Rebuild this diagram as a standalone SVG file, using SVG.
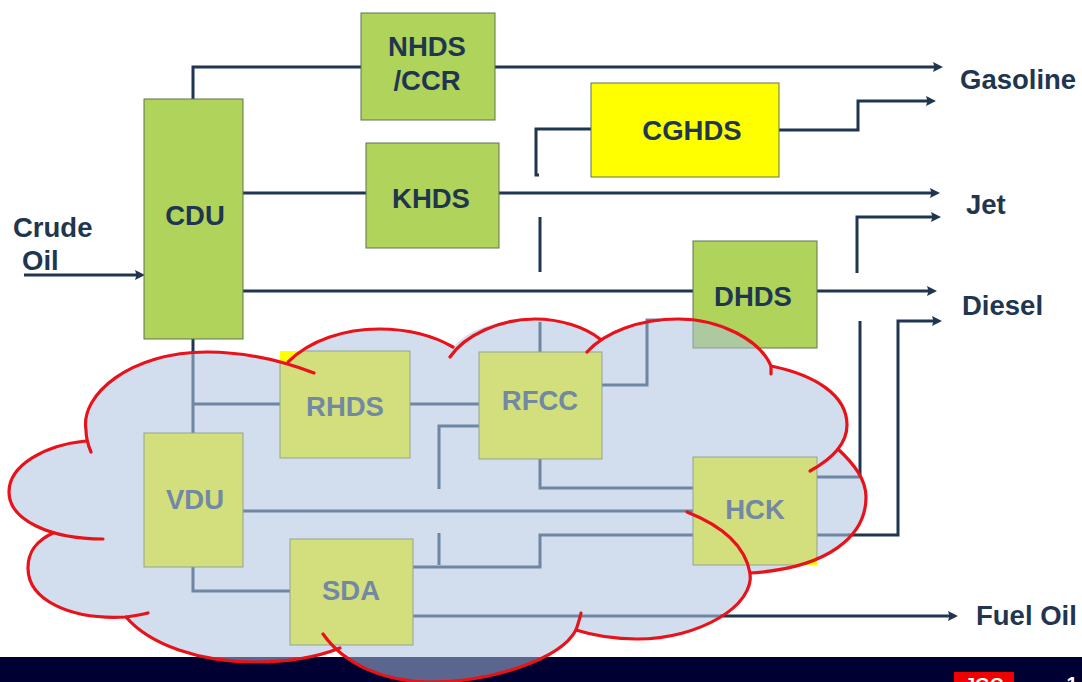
<svg xmlns="http://www.w3.org/2000/svg" width="1082" height="682" viewBox="0 0 1082 682">
<style>
.box{stroke:#5f7550;stroke-width:1}
.g{fill:#afd35b}
.y{fill:#ffff00}
.in{fill:#d3de7d;stroke:#8fa596;stroke-width:1}
.t{font-family:"Liberation Sans",Arial,sans-serif;font-weight:700;font-size:27.5px;fill:#1f3550}
.tc{text-anchor:middle}
.tg{fill:#7288a3}
.d{fill:none;stroke:#1f3550;stroke-width:3}
.a{fill:none;stroke:#6f86a3;stroke-width:3}
.r{fill:none;stroke:#e8121a;stroke-width:3.2;stroke-linecap:round}
</style>
<defs>
<marker id="ah" markerUnits="userSpaceOnUse" markerWidth="12" markerHeight="12" refX="4" refY="6" orient="auto"><path d="M0,1 L10,6 L0,11 L1.5,6 Z" fill="#1f3550"/></marker>
<path id="cl" d="M86,441 C80,395 130,352 207,352 C240,352 265,358 288,364 C315,340 345,329 379,329 C405,329 432,335 453,347 C470,328 500,319 535,319 C560,319 585,327 600,339 C620,325 650,319 678,319 C720,319 760,340 771,366 C815,375 847,395 847,425 C847,435 843,443 838,449 C855,465 866,480 866,497 C866,535 830,568 750,573 C755,600 700,639 637,639 C615,639 595,636 576,630 C560,660 490,682 431,682 C390,682 355,670 340,648 C310,660 285,662 255,662 C200,662 150,645 126,617 C70,620 28,600 28,568 C28,550 38,540 53,533 C25,525 9,510 9,492 C9,465 45,445 86,441 Z"/>
<clipPath id="cc"><use href="#cl"/></clipPath>
</defs>
<rect width="1082" height="682" fill="#fff"/>
<rect id="footer" x="0" y="657" width="1082" height="25" fill="#000033"/>
<g id="logo">
<rect x="954" y="672" width="60" height="10" fill="#f00000"/>
<text x="984" y="691" class="t tc" style="fill:#fff;font-size:19px">JGC</text>
<text x="1072" y="691" class="t tc" style="fill:#fff;font-size:20px">1</text>
</g>
<g id="connectors-top">
<path class="d" d="M193,99 V67 H361"/>
<path class="d" d="M495,67 H937" marker-end="url(#ah)"/>
<path class="d" d="M243,193 H366"/>
<path class="d" d="M499,193 H934" marker-end="url(#ah)"/>
<path class="d" d="M243,291 H693"/>
<path class="d" d="M817,291 H931" marker-end="url(#ah)"/>
<path class="d" d="M24,275 H139" marker-end="url(#ah)"/>
<path class="d" d="M539,175 H536 V129 H591"/>
<path class="d" d="M779,130 H858 V101 H930" marker-end="url(#ah)"/>
<path class="d" d="M540,217 V272"/>
<path class="d" d="M857,273 V217 H935" marker-end="url(#ah)"/>
<path class="d" d="M860,321 V477"/>
<path class="d" d="M848,535 H898 V321 H936" marker-end="url(#ah)"/>
<path class="d" d="M720,616 H952" marker-end="url(#ah)"/>
<path class="d" d="M193,339 V354"/>
</g>
<g id="node-nhds"><rect class="box g" x="361" y="13" width="134" height="107"/><text class="t tc" x="427" y="56">NHDS</text><text class="t tc" x="427" y="90">/CCR</text></g>
<g id="node-cdu"><rect class="box g" x="144" y="99" width="99" height="240"/><text class="t tc" x="195" y="225">CDU</text></g>
<g id="node-cghds"><rect class="box y" x="591" y="83" width="188" height="94"/><text class="t tc" x="692" y="140">CGHDS</text></g>
<g id="node-khds"><rect class="box g" x="366" y="143" width="133" height="105"/><text class="t tc" x="431" y="208">KHDS</text></g>
<g id="node-dhds"><rect class="box g" x="693" y="241" width="124" height="107"/><text class="t tc" x="753" y="306">DHDS</text></g>
<rect class="y" x="280" y="351" width="130" height="107"/>
<rect class="y" x="693" y="457" width="124" height="108"/>
<g id="cloud"><use href="#cl" fill="#aac1dd" fill-opacity="0.53"/></g>
<g id="connectors-cloud">
<path class="a" d="M193,354 V433"/>
<path class="a" d="M193,404 H280"/>
<path class="a" d="M410,404 H479"/>
<path class="a" d="M540,322 V352"/>
<path class="a" d="M602,385 H647 V320 H660"/>
<path class="a" d="M479,426 H439 V489"/>
<path class="a" d="M439,533 V565"/>
<path class="a" d="M413,567 H540 V535 H693"/>
<path class="a" d="M540,459 V488 H693"/>
<path class="a" d="M243,511 H693"/>
<path class="a" d="M193,567 V591 H290"/>
<path class="a" d="M413,616 H722"/>
<path class="a" d="M817,477 H860"/>
<path class="a" d="M817,535 H850"/>
</g>
<g clip-path="url(#cc)">
<g id="node-rhds"><rect class="in" x="280" y="351" width="130" height="107"/><text class="t tc tg" x="345" y="416">RHDS</text></g>
<g id="node-hck"><rect class="in" x="693" y="457" width="124" height="108"/><text class="t tc tg" x="755" y="519">HCK</text></g>
</g>
<g id="node-rfcc"><rect class="in" x="479" y="352" width="123" height="107"/><text class="t tc tg" x="540" y="410">RFCC</text></g>
<g id="node-vdu"><rect class="in" x="144" y="433" width="99" height="134"/><text class="t tc tg" x="195" y="509">VDU</text></g>
<g id="node-sda"><rect class="in" x="290" y="539" width="123" height="106"/><text class="t tc tg" x="351" y="600">SDA</text></g>
<g id="cloud-outline">
<path class="r" d="M314,373 C280,360 245,352 207,352 C130,352 80,395 86,430 C86,438 88,445 91,452"/>
<path class="r" d="M86,441 C45,445 9,465 9,492 C9,520 50,539 103,539"/>
<path class="r" d="M53,533 C38,540 28,550 28,568 C28,600 70,620 126,617 C133,616 140,615 148,613"/>
<path class="r" d="M126,617 C150,645 200,662 255,662 C285,662 315,658 340,648"/>
<path class="r" d="M323,634 C345,665 385,682 431,682 C490,682 560,660 576,630 C578,624 580,618 581,613"/>
<path class="r" d="M576,630 C595,636 615,639 637,639 C700,639 755,605 750,573 C745,545 720,525 687,512"/>
<path class="r" d="M750,573 C830,568 866,535 866,497 C866,480 855,465 838,449"/>
<path class="r" d="M810,471 C830,460 847,445 847,425 C847,395 815,375 771,366"/>
<path class="r" d="M771,374 C771,371 771,369 771,366 C760,340 720,319 678,319 C640,319 605,332 587,352"/>
<path class="r" d="M600,339 C585,327 560,319 535,319 C500,319 465,335 450,357"/>
<path class="r" d="M453,347 C432,335 405,329 379,329 C345,329 310,340 288,362"/>
</g>
<g id="labels">
<text class="t" x="13" y="237">Crude</text>
<text class="t" x="22" y="270">Oil</text>
<text class="t" x="960" y="89">Gasoline</text>
<text class="t" x="966" y="214">Jet</text>
<text class="t" x="962" y="315">Diesel</text>
<text class="t" x="976" y="625">Fuel Oil</text>
</g>
</svg>
